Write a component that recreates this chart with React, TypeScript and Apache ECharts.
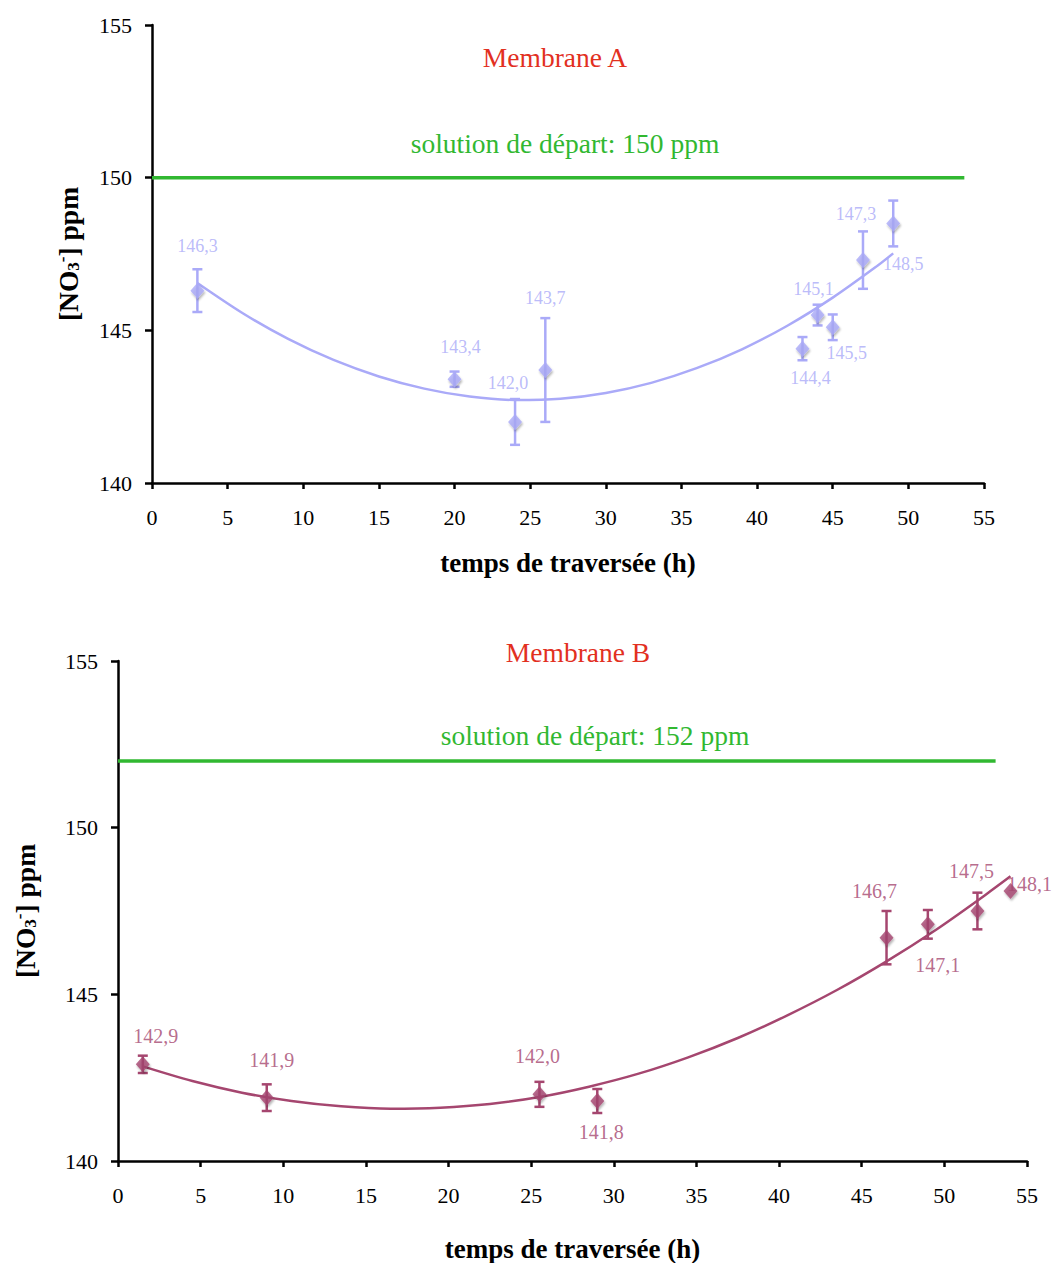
import React, { useEffect, useRef } from "react";
import * as echarts from "echarts";

// ---------- Data ----------
// Membrane A
const timeA = [3, 20, 24, 26, 43, 44, 45, 47, 49];
const concA = [146.3, 143.4, 142.0, 143.7, 144.4, 145.5, 145.1, 147.3, 148.5];
const errA = [0.7, 0.25, 0.75, 1.7, 0.38, 0.34, 0.42, 0.94, 0.75];
const labelsA = ["146,3", "143,4", "142,0", "143,7", "144,4", "145,1", "145,5", "147,3", "148,5"];
const trendTimeA = [3, 6, 9, 12, 15, 18, 21, 24, 27, 30, 33, 36, 39, 42, 45, 48, 49];
const trendConcA = [146.55, 145.56, 144.72, 144.03, 143.49, 143.09, 142.83, 142.72, 142.76, 142.95, 143.28, 143.76, 144.38, 145.15, 146.07, 147.13, 147.52];
const startA = 150;
const startLineEndA = 53.7;

// Membrane B
const timeB = [1.5, 9, 25.5, 29, 46.5, 49, 52, 54];
const concB = [142.9, 141.9, 142.0, 141.8, 146.7, 147.1, 147.5, 148.1];
const errB = [0.26, 0.4, 0.375, 0.36, 0.8, 0.43, 0.55, 0];
const labelsB = ["142,9", "141,9", "142,0", "141,8", "146,7", "147,1", "147,5", "148,1"];
const trendTimeB = [1.5, 4.5, 7.5, 10.5, 13.5, 16.5, 19.5, 22.5, 25.5, 28.5, 31.5, 34.5, 37.5, 40.5, 43.5, 46.5, 49.5, 52.5, 54];
const trendConcB = [142.84, 142.4, 142.05, 141.8, 141.64, 141.57, 141.6, 141.71, 141.92, 142.23, 142.62, 143.11, 143.69, 144.37, 145.13, 145.99, 146.94, 147.99, 148.54];
const startB = 152;
const startLineEndB = 53.1;

// Axis ticks
const xMin = 0, xMax = 55, xStep = 5;
const yMin = 140, yMax = 155, yStep = 5;

// ---------- Layout (label offsets in px, relative to marker centre) ----------
const offsetsA = [[0, -45], [6, -32], [-7, -39], [0, -72], [8, 29], [-4, -26], [14, 26], [-7, -46], [10, 41]];
const offsetsB = [[13, -28], [5, -38], [-2, -38], [4, 31], [-12, -47], [10, 41], [-6, -40], [19, -7]];

const FONT = '"Liberation Serif", "Times New Roman", serif';
const COLOR_A = "#aaaaf8";
const COLOR_B = "#a5466f";
const GREEN = "#31b831";
const RED = "#e2301f";

function errorBarSeries(idx: number, xs: number[], ys: number[], es: number[], color: string) {
  return {
    type: "custom",
    xAxisIndex: idx,
    yAxisIndex: idx,
    z: 2,
    silent: true,
    data: xs.map((x, i) => [x, ys[i], es[i]]),
    encode: { x: 0, y: 1 },
    renderItem: (params: any, api: any) => {
      const x = api.value(0);
      const y = api.value(1);
      const e = api.value(2);
      if (!e) return { type: "group", children: [] };
      const top = api.coord([x, y + e]);
      const bot = api.coord([x, y - e]);
      const w = 5;
      const style = { stroke: color, lineWidth: 2.5 };
      return {
        type: "group",
        children: [
          { type: "line", shape: { x1: top[0], y1: top[1], x2: bot[0], y2: bot[1] }, style },
          { type: "line", shape: { x1: top[0] - w, y1: top[1], x2: top[0] + w, y2: top[1] }, style },
          { type: "line", shape: { x1: bot[0] - w, y1: bot[1], x2: bot[0] + w, y2: bot[1] }, style },
        ],
      };
    },
  };
}

function pointSeries(idx: number, xs: number[], ys: number[], labels: string[], offsets: number[][], color: string, fontSize: number) {
  return {
    type: "scatter",
    xAxisIndex: idx,
    yAxisIndex: idx,
    z: 4,
    symbol: "diamond",
    symbolSize: [14, 16],
    itemStyle: {
      color,
      shadowColor: "rgba(0,0,0,0.35)",
      shadowBlur: 2,
      shadowOffsetX: 1,
      shadowOffsetY: 2,
    },
    data: xs.map((x, i) => ({
      value: [x, ys[i]],
      label: {
        show: true,
        position: "inside",
        offset: offsets[i],
        formatter: labels[i],
        color,
        fontSize,
        fontFamily: FONT,
        align: "center",
        verticalAlign: "middle",
        textBorderWidth: 0,
      },
    })),
  };
}

function trendSeries(idx: number, xs: number[], ys: number[], color: string) {
  return {
    type: "line",
    xAxisIndex: idx,
    yAxisIndex: idx,
    z: 3,
    smooth: 0.3,
    showSymbol: false,
    symbol: "none",
    lineStyle: { color, width: 2.5 },
    data: xs.map((x, i) => [x, ys[i]]),
  };
}

function startSeries(idx: number, level: number, end: number) {
  return {
    type: "line",
    xAxisIndex: idx,
    yAxisIndex: idx,
    z: 1,
    showSymbol: false,
    symbol: "none",
    lineStyle: { color: GREEN, width: 3.5 },
    data: [[xMin, level], [end, level]],
  };
}

function xAxisCfg(gridIndex: number, nameGap: number) {
  return {
    type: "value",
    gridIndex,
    min: xMin,
    max: xMax,
    interval: xStep,
    name: "temps de traversée (h)",
    nameLocation: "middle",
    nameGap,
    nameMoveOverlap: false,
    nameTextStyle: { fontFamily: FONT, fontWeight: "bold", fontSize: 27, color: "#000" },
    axisLine: { show: true, onZero: false, lineStyle: { color: "#000", width: 2.5 } },
    axisTick: { show: true, inside: false, length: 6, lineStyle: { color: "#000", width: 2.5 } },
    axisLabel: { fontFamily: FONT, fontSize: 22, color: "#000", margin: 23 },
    splitLine: { show: false },
  };
}

function yAxisCfg(gridIndex: number, nameGap: number) {
  return {
    type: "value",
    gridIndex,
    min: yMin,
    max: yMax,
    interval: yStep,
    name: "{b|[NO}{s|3}{p|-}{b|] ppm}",
    nameLocation: "middle",
    nameRotate: 90,
    nameGap,
    nameMoveOverlap: false,
    nameTextStyle: {
      rich: {
        b: { fontFamily: FONT, fontWeight: "bold", fontSize: 27.5, color: "#000" },
        s: { fontFamily: FONT, fontWeight: "bold", fontSize: 17, color: "#000", verticalAlign: "bottom", padding: [8, 0, 0, 0] },
        p: { fontFamily: FONT, fontWeight: "bold", fontSize: 17, color: "#000", verticalAlign: "top", padding: [0, 0, 10, 0] },
      },
    },
    axisLine: { show: true, onZero: false, lineStyle: { color: "#000", width: 2.5 } },
    axisTick: { show: true, inside: false, length: 7, lineStyle: { color: "#000", width: 2.5 } },
    axisLabel: { fontFamily: FONT, fontSize: 22, color: "#000", margin: 20 },
    splitLine: { show: false },
  };
}

export default function App() {
  const ref = useRef<HTMLDivElement>(null);
  useEffect(() => {
    if (!ref.current) return;
    const chart = echarts.init(ref.current, undefined, { renderer: "svg" });
    const textStyle = (text: string, color: string) => ({
      text,
      fill: color,
      font: `27.5px ${FONT}`,
      textAlign: "center",
      textVerticalAlign: "middle",
    });
    chart.setOption({
      animation: false,
      backgroundColor: "#fff",
      grid: [
        { left: 152, top: 25, width: 832, height: 458, containLabel: false, outerBoundsMode: "none" },
        { left: 118, top: 661, width: 909, height: 500, containLabel: false, outerBoundsMode: "none" },
      ],
      xAxis: [xAxisCfg(0, 66), xAxisCfg(1, 74)],
      yAxis: [yAxisCfg(0, 70), yAxisCfg(1, 79)],
      graphic: [
        { type: "text", x: 555, y: 57, style: textStyle("Membrane A", RED) },
        { type: "text", x: 565, y: 143, style: textStyle("solution de départ: 150 ppm", GREEN) },
        { type: "text", x: 578, y: 652, style: textStyle("Membrane B", RED) },
        { type: "text", x: 595, y: 735, style: textStyle("solution de départ: 152 ppm", GREEN) },
      ],
      series: [
        startSeries(0, startA, startLineEndA),
        trendSeries(0, trendTimeA, trendConcA, COLOR_A),
        errorBarSeries(0, timeA, concA, errA, COLOR_A),
        pointSeries(0, timeA, concA, labelsA, offsetsA, COLOR_A, 18),
        startSeries(1, startB, startLineEndB),
        trendSeries(1, trendTimeB, trendConcB, COLOR_B),
        errorBarSeries(1, timeB, concB, errB, COLOR_B),
        pointSeries(1, timeB, concB, labelsB, offsetsB, COLOR_B, 20),
      ],
    });
    return () => chart.dispose();
  }, []);
  return (
    <div
      ref={ref}
      style={{ position: "absolute", left: 0, top: 0, width: 1054, height: 1263, background: "#fff" }}
    />
  );
}
